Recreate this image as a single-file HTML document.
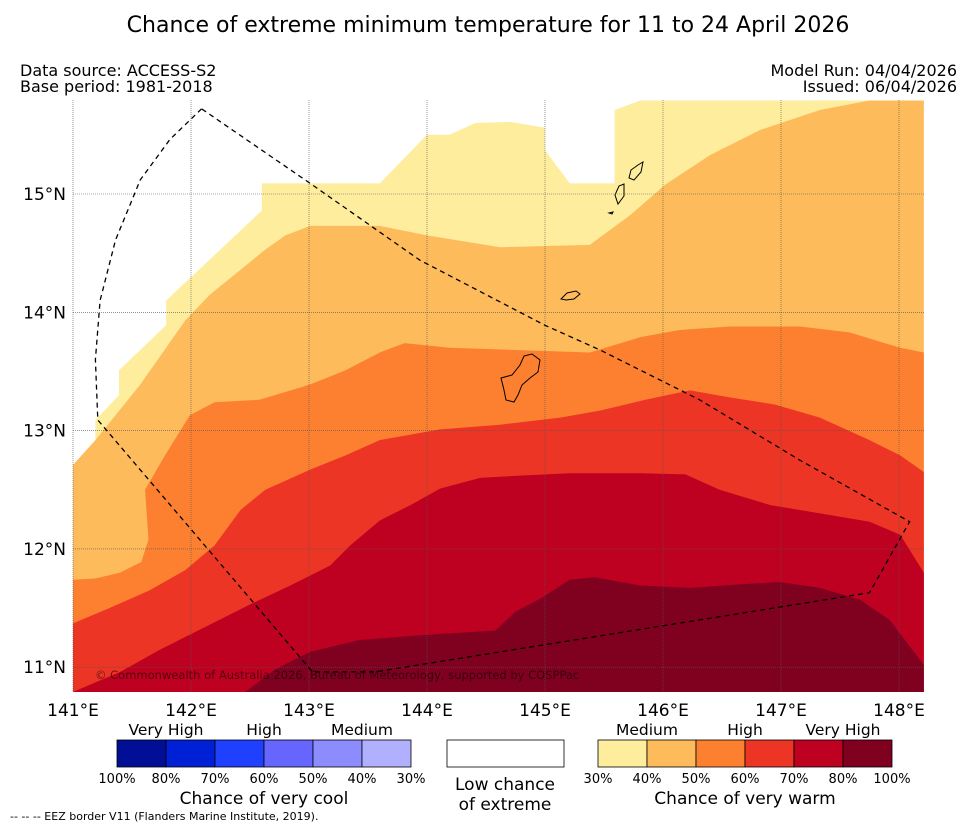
<!DOCTYPE html>
<html><head><meta charset="utf-8"><style>
body{margin:0;background:#fff;font-family:"DejaVu Sans","Liberation Sans",sans-serif;}
svg text{font-family:"DejaVu Sans","Liberation Sans",sans-serif;}
</style></head><body>
<svg id="chart" width="977" height="827" viewBox="0 0 977 827">
<text x="488" y="32" text-anchor="middle" font-size="22">Chance of extreme minimum temperature for 11 to 24 April 2026</text>
<text x="20" y="76" font-size="16">Data source: ACCESS-S2</text>
<text x="20" y="92" font-size="16">Base period: 1981-2018</text>
<text x="957" y="76" font-size="16" text-anchor="end">Model Run: 04/04/2026</text>
<text x="957" y="92" font-size="16" text-anchor="end">Issued: 06/04/2026</text>
<defs><clipPath id="mapclip"><rect x="73" y="100" width="851" height="592"/></clipPath></defs>
<g id="map" clip-path="url(#mapclip)"></g>
<g id="axes"></g>
<g id="legend"></g>
<text x="10" y="820" font-size="11">--  --  -- EEZ border V11 (Flanders Marine Institute, 2019).</text>
</svg>
<script>
const lonTicks=[141,142,143,144,145,146,147,148];
const latTicks=[11,12,13,14,15];
const bandColors=["#FEED9D","#FDBB5C","#FC8030","#EC3524","#BE0021","#800020"];
const band1=[[141.00,12.71],[141.19,12.88],[141.19,13.09],[141.39,13.30],[141.39,13.51],[141.79,13.89],[141.79,14.10],[142.60,14.86],[142.60,15.09],[143.60,15.09],[144.00,15.50],[144.19,15.50],[144.41,15.60],[144.70,15.61],[145.00,15.56],[145.00,15.37],[145.21,15.09],[145.59,15.09],[145.59,15.71],[145.81,15.79]];
const band2=[[141.00,12.71],[141.19,12.92],[141.57,13.39],[141.95,13.93],[142.16,14.15],[142.42,14.36],[142.63,14.53],[142.80,14.65],[143.01,14.73],[143.60,14.73],[144.00,14.65],[144.62,14.55],[145.38,14.57],[145.72,14.82],[146.02,15.08],[146.40,15.33],[146.82,15.54],[147.33,15.71],[147.75,15.79]];
const band3=[[141.00,11.74],[141.19,11.75],[141.40,11.80],[141.58,11.89],[141.64,12.08],[141.61,12.50],[141.78,12.79],[141.99,13.13],[142.20,13.24],[142.58,13.26],[143.01,13.39],[143.31,13.51],[143.60,13.66],[143.81,13.74],[144.19,13.70],[145.38,13.66],[145.81,13.79],[146.14,13.85],[146.57,13.88],[147.16,13.88],[147.58,13.83],[148.01,13.70],[148.21,13.66]];
const band4=[[141.00,11.37],[141.31,11.50],[141.65,11.65],[141.95,11.82],[142.20,12.03],[142.42,12.33],[142.63,12.50],[143.01,12.67],[143.31,12.79],[143.60,12.92],[144.11,13.01],[144.62,13.05],[145.13,13.11],[145.47,13.17],[145.85,13.26],[146.23,13.34],[146.57,13.28],[146.95,13.22],[147.33,13.11],[147.75,12.92],[148.01,12.79],[148.21,12.65]];
const band5=[[141.00,10.79],[141.40,10.96],[141.74,11.15],[142.16,11.36],[142.50,11.53],[142.84,11.69],[143.18,11.86],[143.35,12.03],[143.60,12.24],[143.86,12.37],[144.11,12.51],[144.45,12.60],[144.79,12.62],[145.21,12.64],[145.81,12.64],[146.19,12.63],[146.48,12.50],[146.91,12.37],[147.33,12.30],[147.75,12.23],[148.01,12.12],[148.21,11.80]];
const band6=[[142.46,10.79],[142.71,10.98],[143.01,11.13],[143.43,11.23],[143.94,11.27],[144.58,11.31],[144.75,11.47],[144.96,11.58],[145.21,11.74],[145.42,11.76],[145.81,11.69],[146.23,11.67],[146.65,11.70],[146.99,11.72],[147.33,11.67],[147.67,11.57],[147.92,11.40],[148.21,11.02]];
const eez=[[142.09,15.72],[141.82,15.46],[141.57,15.12],[141.36,14.61],[141.23,14.10],[141.19,13.60],[141.21,13.09],[143.03,10.96],[143.56,10.96],[147.75,11.63],[148.09,12.23],[147.16,12.75],[146.31,13.26],[145.47,13.68],[145.00,13.89],[143.94,14.44],[143.01,15.09],[142.09,15.72]];
const lonMin=141,lonMax=148.21,latMin=10.79,latMax=15.79;
const X=lon=>73+(lon-141)*118;
const Y=lat=>194+(15-lat)*118.3;
const NS="http://www.w3.org/2000/svg";
function mk(tag,attrs,parent){const e=document.createElementNS(NS,tag);for(const k in attrs)e.setAttribute(k,attrs[k]);parent.appendChild(e);return e;}
const map=document.getElementById('map');
const pts=a=>a.map(p=>X(p[0]).toFixed(1)+','+Y(p[1]).toFixed(1)).join(' ');
const bands=[band1,band2,band3,band4,band5,band6];
bands.forEach((b,i)=>{
  const last=b[b.length-1];
  const closing=[[lonMax,Math.max(last[1],latMin)],[lonMax,latMin],[b[0][0],latMin]];
  if(last[1]>=latMax-0.01) closing.unshift([lonMax,latMax]);
  const p=mk('polygon',{points:pts(b.concat(closing)),fill:bandColors[i]},map);
  
  
});
const isl=[["guam","M501,378 L512,375 L520,365 L524,356 L532,354 L540,360 L538,372 L530,378 L522,385 L518,395 L514,402 L506,400 L504,390 Z"],["rota","M561,299 L567,293 L576,291 L580,294 L574,299 L566,300 Z"],["tinian","M615,195 L619,186 L624,184 L624,196 L618,204 Z"],["saipan","M629,178 L631,170 L638,165 L643,162 L641,172 L634,180 Z"],["aguijan","M609,213 L613,212 L612,214 Z"]];
isl.forEach(d=>{const p=mk('path',{d:d[1],fill:'none',stroke:'#000','stroke-width':1},map);

});
const g=document.getElementById('axes');
lonTicks.forEach(l=>{const ln=mk('line',{x1:X(l),x2:X(l),y1:100,y2:692,stroke:'#555','stroke-width':0.6,'stroke-dasharray':'1,1'},g);


const t=mk('text',{x:X(l),y:716,'font-size':17,'text-anchor':'middle'},g);t.textContent=l+'°E';

});
latTicks.forEach(l=>{const ln=mk('line',{x1:73,x2:924,y1:Y(l),y2:Y(l),stroke:'#555','stroke-width':0.6,'stroke-dasharray':'1,1'},g);


const t=mk('text',{x:66,y:Y(l)+6,'font-size':17,'text-anchor':'end'},g);t.textContent=l+'°N';

});
const ez=mk('polyline',{points:pts(eez),fill:'none',stroke:'#000','stroke-width':1.3,'stroke-dasharray':'5,4'},g);


const cp=mk('text',{x:95,y:679,'font-size':11.5,fill:'#000','fill-opacity':0.55},g);cp.textContent='© Commonwealth of Australia 2026, Bureau of Meteorology, supported by COSPPac';


const lg=document.getElementById('legend');
const coolColors=["#000f96","#0020d6","#2040ff","#6666ff","#8c8cff","#b0b0ff"];
const coolLabels=["100%","80%","70%","60%","50%","40%","30%"];
const warmLabels=["30%","40%","50%","60%","70%","80%","100%"];
function bar(x0,cols,labels,name){cols.forEach((c,i)=>{const r=mk('rect',{x:x0+i*49,y:740,width:49,height:27,fill:c,stroke:'#000','stroke-width':0.8},lg);

});
labels.forEach((s,i)=>{const t=mk('text',{x:x0+i*49,y:783,'font-size':13,'text-anchor':'middle'},lg);t.textContent=s;

});}
bar(117,coolColors,coolLabels,'cool-legend');
bar(598,bandColors,warmLabels,'warm-legend');
const wb=mk('rect',{x:447,y:740,width:117,height:27,fill:'#fff',stroke:'#000','stroke-width':0.8},lg);


[[166,"Very High"],[264,"High"],[362,"Medium"],[647,"Medium"],[745,"High"],[843,"Very High"]].forEach(a=>{const t=mk('text',{x:a[0],y:735,'font-size':15.5,'text-anchor':'middle'},lg);t.textContent=a[1];

});
[[264,804,"Chance of very cool"],[505,790,"Low chance"],[505,810,"of extreme"],[745,804,"Chance of very warm"]].forEach(a=>{const t=mk('text',{x:a[0],y:a[1],'font-size':17,'text-anchor':'middle'},lg);t.textContent=a[2];

});
</script>
</body></html>
